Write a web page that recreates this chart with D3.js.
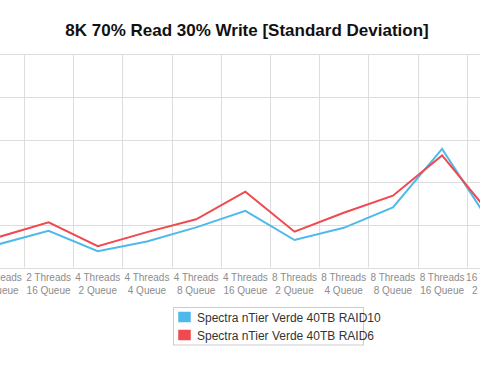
<!DOCTYPE html>
<html>
<head>
<meta charset="utf-8">
<script src="https://cdn.jsdelivr.net/npm/d3@7"></script>
<style>
  body { margin: 0; background: #fff; }
  svg { display: block; font-family: "Liberation Sans", Arial, Helvetica, sans-serif; }
</style>
</head>
<body>
<svg id="chart"></svg>
<script>
var threads = ["2 Threads", "2 Threads", "4 Threads", "4 Threads", "4 Threads", "4 Threads",
               "8 Threads", "8 Threads", "8 Threads", "8 Threads", "16 Threads"];
var queues  = ["8 Queue", "16 Queue", "2 Queue", "4 Queue", "8 Queue", "16 Queue",
               "2 Queue", "4 Queue", "8 Queue", "16 Queue", "2 Queue"];
var raid10 = [0.55, 0.86, 0.38, 0.61, 0.94, 1.33, 0.645, 0.93, 1.41, 2.78, 1.00];
var raid6  = [0.72, 1.06, 0.50, 0.83, 1.13, 1.78, 0.84, 1.285, 1.685, 2.63, 1.22];
var seriesNames = ["Spectra nTier Verde 40TB RAID10", "Spectra nTier Verde 40TB RAID6"];
var yTicks = [0, 1, 2, 3, 4, 5];

var w = 480, h = 376;
var colors = ["#4fb9ec", "#ee4a4f"];

var svg = d3.select("#chart").attr("width", w).attr("height", h);

var cats = threads.map(function(t, i) { return i; });
var x = d3.scaleBand().domain(cats).range([-25.2, -25.2 + 49.19 * cats.length]).padding(0);
var y = d3.scaleLinear().domain([0, 5]).range([267.5, 54.3]);

// horizontal grid
svg.append("g").selectAll("line").data(yTicks).enter().append("line")
  .attr("x1", 0).attr("x2", w)
  .attr("y1", function(d) { return Math.round(y(d)) + 0.5; })
  .attr("y2", function(d) { return Math.round(y(d)) + 0.5; })
  .attr("stroke", "#dddddd").attr("stroke-width", 1);

// vertical grid at band edges
var edges = cats.map(function(c) { return x(c); }).concat([x(cats[cats.length - 1]) + x.bandwidth()]);
svg.append("g").selectAll("line").data(edges).enter().append("line")
  .attr("x1", function(d) { return Math.round(d) + 0.5; })
  .attr("x2", function(d) { return Math.round(d) + 0.5; })
  .attr("y1", y(5)).attr("y2", y(0))
  .attr("stroke", "#dddddd").attr("stroke-width", 1);

// tick labels
var lab = svg.append("g").selectAll("text").data(cats).enter().append("text")
  .attr("x", function(d) { return x(d) + x.bandwidth() / 2; })
  .attr("text-anchor", "middle")
  .attr("font-size", "10px")
  .attr("fill", "#8c8c8c");
lab.append("tspan").attr("x", function(d) { return x(d) + x.bandwidth() / 2; })
  .attr("y", 281).text(function(d) { return threads[d]; });
lab.append("tspan").attr("x", function(d) { return x(d) + x.bandwidth() / 2; })
  .attr("y", 294).text(function(d) { return queues[d]; });

// lines
var line = d3.line()
  .x(function(d, i) { return x(i) + x.bandwidth() / 2; })
  .y(function(d) { return y(d); });

[raid10, raid6].forEach(function(s, k) {
  svg.append("path").datum(s)
    .attr("d", line)
    .attr("fill", "none")
    .attr("stroke", colors[k])
    .attr("stroke-width", 2)
    .attr("stroke-linejoin", "miter");
});

// title
svg.append("text")
  .attr("x", 247).attr("y", 36)
  .attr("text-anchor", "middle")
  .attr("font-size", "17px")
  .attr("font-weight", "bold")
  .attr("fill", "#111")
  .text("8K 70% Read 30% Write [Standard Deviation]");

// legend
var lg = svg.append("g").attr("transform", "translate(173.5,307.5)");
lg.append("rect").attr("width", 190).attr("height", 37.5)
  .attr("fill", "#fff").attr("stroke", "#cccccc");
seriesNames.forEach(function(n, k) {
  lg.append("rect").attr("x", 4.5).attr("y", 4 + k * 18)
    .attr("width", 13).attr("height", 11)
    .attr("fill", colors[k]).attr("stroke", "#ffffff").attr("stroke-width", 0.5);
  lg.append("text").attr("x", 23.5).attr("y", 14.5 + k * 18)
    .attr("font-size", "12px").attr("fill", "#333")
    .text(n);
});
</script>
</body>
</html>
